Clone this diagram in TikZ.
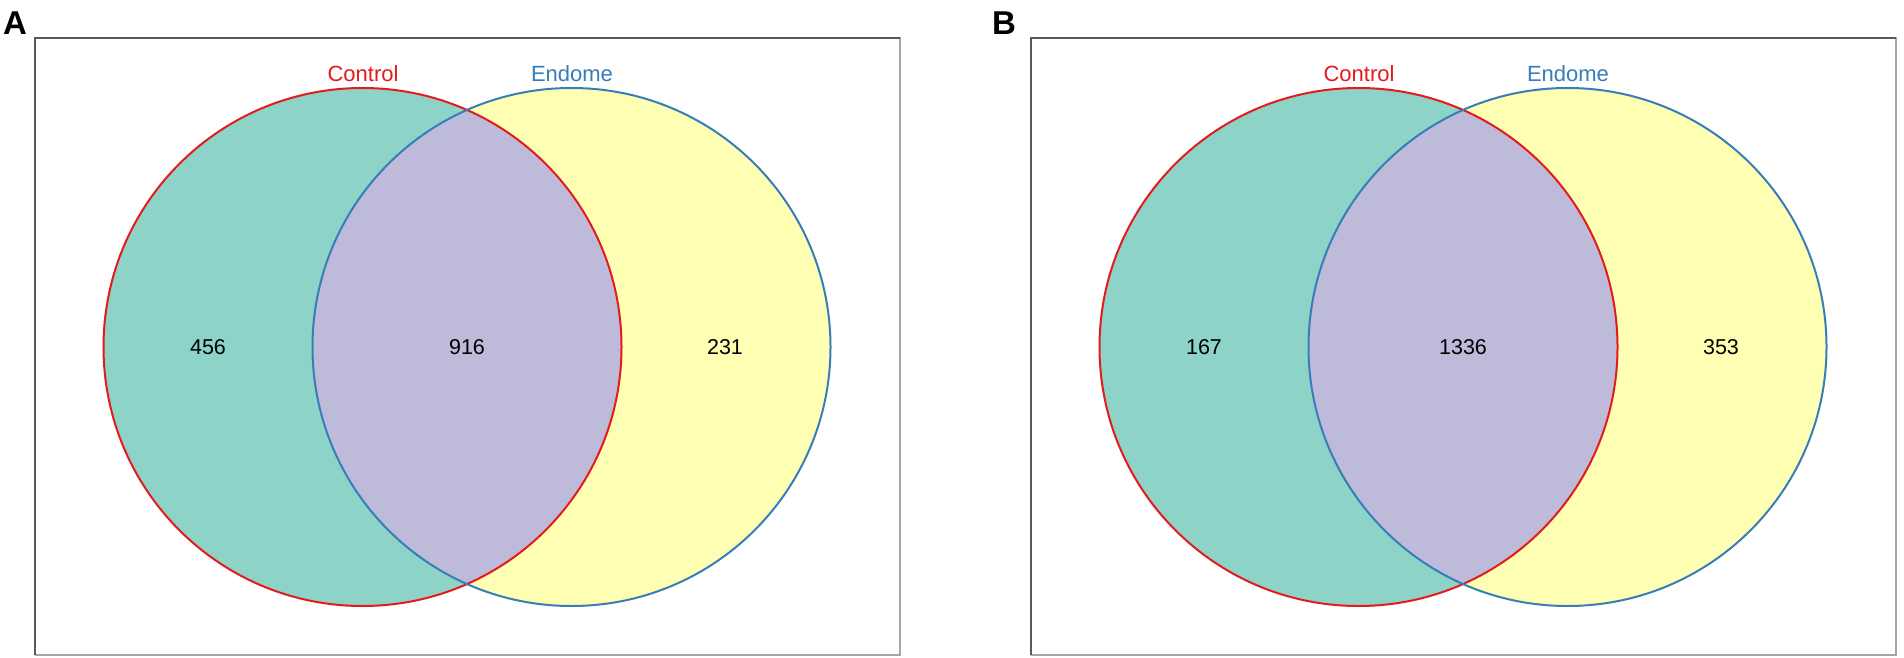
\documentclass[tikz,border=0pt]{standalone}
\usepackage{fontspec}
\setmainfont{Liberation Sans}
\definecolor{setteal}{HTML}{8DD3C7}
\definecolor{setyellow}{HTML}{FFFFB3}
\definecolor{setpurple}{HTML}{BEBADA}
\definecolor{setred}{HTML}{E41A1C}
\definecolor{setblue}{HTML}{377EB8}
\begin{document}
\begin{tikzpicture}[x=1pt,y=-1pt,
  setlabel/.style={font=\fontsize{22}{24}\selectfont, inner sep=0pt, anchor=center},
  countlabel/.style={font=\fontsize{21.5}{24}\selectfont, inner sep=0pt, anchor=center, text=black},
  panelletter/.style={font=\fontsize{33}{36}\selectfont\bfseries, inner sep=0pt, anchor=north west},
  frameDark/.style={draw=black!65, line width=1.4pt},
  frameLight/.style={draw=black!35, line width=1.4pt},
  ringred/.style={draw=setred, line width=2pt},
  ringblue/.style={draw=setblue, line width=2pt}]
\useasboundingbox (0,0) rectangle (1904,658);
\fill[white] (0,0) rectangle (1904,658);
\foreach \dx/\pl/\nl/\nm/\nr in {0/A/456/916/231, 996/B/167/1336/353}{
  \begin{scope}[xshift=\dx pt]
    % frame
    \draw[frameLight] (35,38) -- (900,38) -- (900,655) -- (35,655);
    \draw[frameDark] (35,655) -- (35,38) -- (900,38);
    % fills
    \fill[setteal] (362.5,347) circle[radius=259];
    \fill[setyellow] (571.5,347) circle[radius=259];
    \begin{scope}
      \clip (362.5,347) circle[radius=259];
      \fill[setpurple] (571.5,347) circle[radius=259];
    \end{scope}
    % outlines
    \draw[ringred] (362.5,347) circle[radius=259];
    \draw[ringblue] (571.5,347) circle[radius=259];
    % labels
    \node[setlabel, text=setred] (ctl\pl) at (363,74) {Control};
    \node[setlabel, text=setblue] (end\pl) at (572,74) {Endome};
    \node[countlabel] (left\pl) at (208,347) {\nl};
    \node[countlabel] (mid\pl) at (467,347) {\nm};
    \node[countlabel] (right\pl) at (725,347) {\nr};
  \end{scope}
}
\node[panelletter] (letterA) at (3,12) {A};
\node[panelletter] (letterB) at (992,12) {B};
\end{tikzpicture}
\end{document}
